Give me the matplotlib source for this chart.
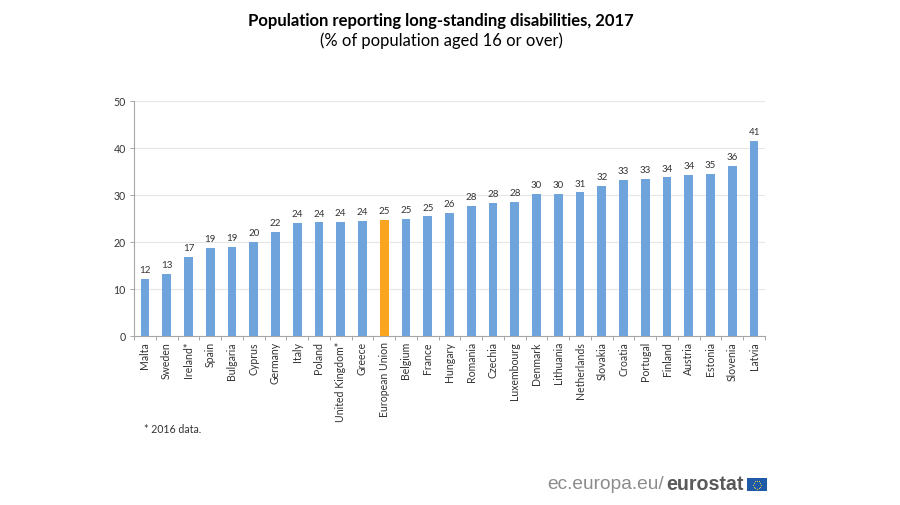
import matplotlib

matplotlib.use("Agg")
import matplotlib.pyplot as plt
import numpy as np
from matplotlib.patches import Rectangle

countries = [
    "Malta", "Sweden", "Ireland*", "Spain", "Bulgaria", "Cyprus", "Germany", "Italy",
    "Poland", "United Kingdom*", "Greece", "European Union", "Belgium", "France",
    "Hungary", "Romania", "Czechia", "Luxembourg", "Denmark", "Lithuania",
    "Netherlands", "Slovakia", "Croatia", "Portugal", "Finland", "Austria",
    "Estonia", "Slovenia", "Latvia",
]
values = [
    12.0, 13.1, 16.7, 18.6, 18.9, 20.0, 22.1, 24.0, 24.1, 24.2, 24.4, 24.7, 24.9,
    25.4, 26.1, 27.6, 28.2, 28.4, 30.1, 30.2, 30.5, 31.9, 33.1, 33.4, 33.7, 34.3,
    34.5, 36.2, 41.4,
]
value_labels = [
    12, 13, 17, 19, 19, 20, 22, 24, 24, 24, 24, 25, 25, 25, 26, 28, 28, 28, 30, 30,
    31, 32, 33, 33, 34, 34, 35, 36, 41,
]
y_ticks = [0, 10, 20, 30, 40, 50]

BLUE = "#6fa3dc"
ORANGE = "#f9a51f"
W, H = 900, 506

plt.rcParams["font.family"] = ["Lato", "DejaVu Sans"]

fig = plt.figure(figsize=(W / 100, H / 100), dpi=100, facecolor="white")
ax = fig.add_axes([134 / W, 1 - 336.5 / H, (765 - 134) / W, (336.5 - 102) / H])

x = np.arange(len(countries))
colors = [ORANGE if c == "European Union" else BLUE for c in countries]
ax.bar(x, values, width=0.4, color=colors, zorder=3)

for xi, v, lab in zip(x, values, value_labels):
    ax.annotate(str(lab), (xi, v), xytext=(0, 3.5), textcoords="offset points",
                ha="center", va="bottom", fontsize=7, color="#333333")

ax.set_xlim(-0.5, len(countries) - 0.5)
ax.set_ylim(0, 50)
ax.set_yticks(y_ticks)
ax.set_xticks(x)
ax.set_xticklabels(countries, rotation=90, fontsize=7.6, color="#333333")
ax.set_xticks(np.arange(len(countries) + 1) - 0.5, minor=True)
ax.tick_params(axis="x", which="major", length=0, pad=4)
ax.tick_params(axis="x", which="minor", length=3, width=0.7, color="#a6a6a6")
ax.tick_params(axis="y", length=3, width=0.7, color="#a6a6a6", labelsize=7.6,
               labelcolor="#333333", pad=3)
ax.grid(axis="y", color="#e6e6e6", linewidth=0.8, zorder=0)
for side in ("top", "right"):
    ax.spines[side].set_visible(False)
for side in ("left", "bottom"):
    ax.spines[side].set_color("#a6a6a6")
    ax.spines[side].set_linewidth(0.8)

fig.text(441 / W, 1 - 21 / H, "Population reporting long-standing disabilities, 2017",
         ha="center", va="center", fontsize=12, fontweight="bold", color="black")
fig.text(441 / W, 1 - 41 / H, "(% of population aged 16 or over)",
         ha="center", va="center", fontsize=11.9, color="black")
fig.text(144 / W, 1 - 429.5 / H, "* 2016 data.", ha="left", va="center",
         fontsize=7.6, color="#333333")

# logo
fig.text(547 / W, 1 - 485 / H, "ec.europa.eu/", ha="left", va="center",
         fontsize=13.8, color="#8c8c8c", family="Liberation Sans")
fig.text(666 / W, 1 - 485 / H, "eurostat", ha="left", va="center",
         fontsize=14.1, fontweight="bold", color="#595959", family="Liberation Sans")
fig.add_artist(Rectangle((747 / W, 1 - 492 / H), 20 / W, 13 / H,
                         transform=fig.transFigure, facecolor="#1f5aa8", edgecolor="none"))
angles = np.linspace(0, 2 * np.pi, 12, endpoint=False)
fig.add_artist(plt.Line2D((757 + 4 * np.cos(angles)) / W,
                          1 - (485.5 + 4 * np.sin(angles)) / H,
                          transform=fig.transFigure, linestyle="none", marker="o",
                          markersize=0.8, color="#f2d43a", markeredgewidth=0))

fig.savefig("out.png", dpi=100)
